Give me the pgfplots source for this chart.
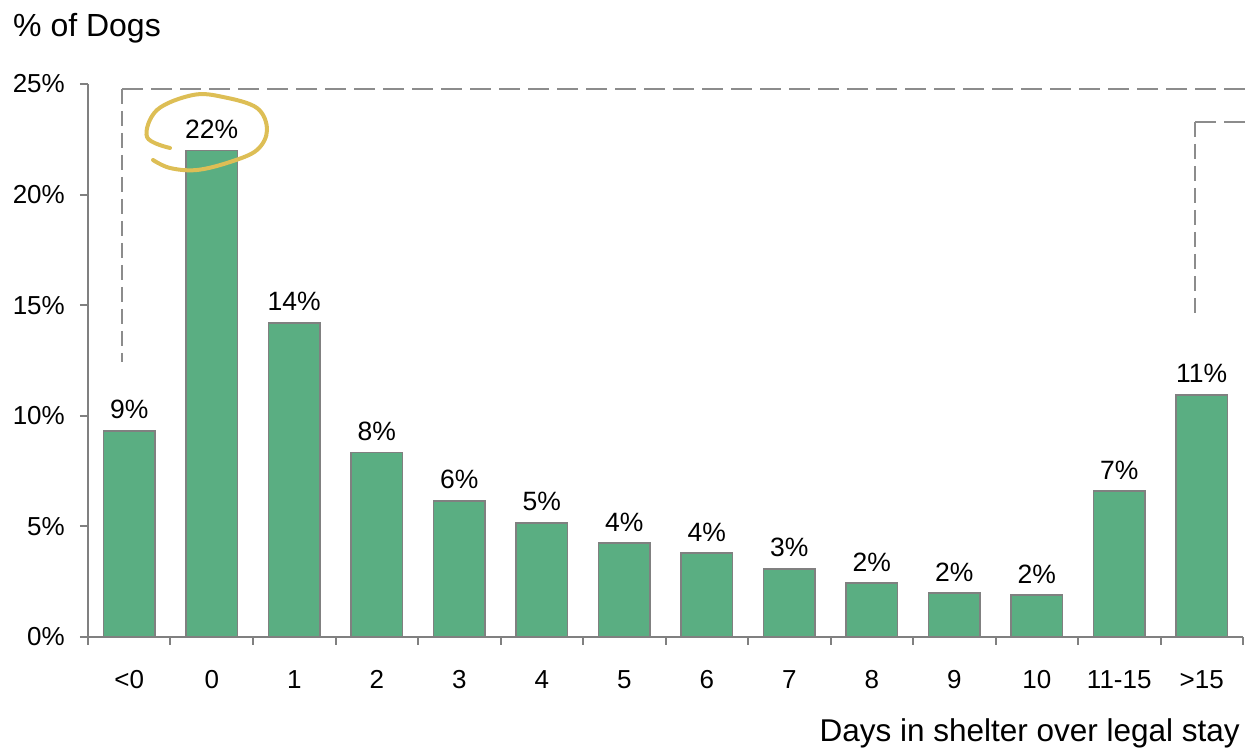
\documentclass[border=0pt]{standalone}
\usepackage{fontspec}
\setmainfont{Liberation Sans}
\usepackage{pgfplots}
\usepackage{pgfplotstable}
\pgfplotsset{compat=1.18}
\definecolor{barg}{HTML}{5AAE82}
\definecolor{edgeg}{HTML}{808080}
\definecolor{dashg}{HTML}{8C8C8C}
\definecolor{gold}{HTML}{DDBE55}
\pgfplotstableread{
x y lab
0 9.32 9
1 21.99 22
2 14.2 14
3 8.33 8
4 6.15 6
5 5.16 5
6 4.25 4
7 3.8 4
8 3.08 3
9 2.44 2
10 1.99 2
11 1.9 2
12 6.6 7
13 10.95 11
}\dogs
\begin{document}
\begin{tikzpicture}
\begin{axis}[
 at={(0pt,0pt)}, anchor=south west,
 scale only axis, width=1155pt, height=553pt,
 xmin=-0.5, xmax=13.5, ymin=0, ymax=25,
 axis x line*=bottom, axis y line*=left,
 axis line style={edgeg, line width=2pt},
 xtick={-0.5,0.5,...,13.5},
 xticklabels={},
 extra x ticks={0,...,13},
 extra x tick labels={{<0},0,1,2,3,4,5,6,7,8,9,10,11-15,{>15}},
 extra x tick style={major tick length=0pt, tick style={draw=none}},
 ytick={0,5,...,25},
 yticklabels={0\%,5\%,10\%,15\%,20\%,25\%},
 major tick length=8pt, tick align=outside,
 tick style={edgeg, line width=2pt},
 ticklabel style={font=\fontsize{26}{30}\selectfont, inner sep=0pt},
 xticklabel style={yshift=-33pt},
 yticklabel style={xshift=-15pt},
 clip=false,
]
\addplot[ybar, bar width=0.63, fill=barg, draw=edgeg, line width=1.5pt,
  point meta=explicit symbolic,
  nodes near coords={\pgfplotspointmeta\%},
  every node near coord/.append style={font=\fontsize{26.5}{30}\selectfont, anchor=south, inner sep=0pt, yshift=11pt, text=black}]
  table[x=x, y=y, meta=lab]{\dogs};
\end{axis}
\draw[dashg, line width=2.5pt, dash pattern=on 21pt off 8pt] (34pt,548pt) -- (1157pt,548pt);
\draw[dashg, line width=2pt, dash pattern=on 15pt off 7pt] (34pt,548pt) -- (34pt,275pt);
\draw[dashg, line width=2.5pt, dash pattern=on 21pt off 8pt] (1107pt,515pt) -- (1157pt,515pt);
\draw[dashg, line width=2pt, dash pattern=on 15pt off 7pt] (1107pt,515pt) -- (1107pt,319pt);
\draw[gold, line width=4pt, line cap=round] plot[smooth, tension=0.6] coordinates {
 (82pt,489pt) (59pt,500pt) (69pt,527pt) (105pt,542pt) (135pt,540pt) (169pt,529pt)
 (179pt,507pt) (169pt,487pt) (142pt,475pt) (109pt,467pt) (82pt,469pt) (65pt,477pt)};
\node[anchor=base west, inner sep=0pt, font=\fontsize{32}{36}\selectfont] at (-75pt,600pt) {\% of Dogs};
\node[anchor=base east, inner sep=0pt, font=\fontsize{31.5}{36}\selectfont] at (1152pt,-105pt) {Days in shelter over legal stay};
\pgfresetboundingbox
\useasboundingbox (-88pt,-114pt) rectangle (1157pt,637pt);
\end{tikzpicture}
\end{document}
